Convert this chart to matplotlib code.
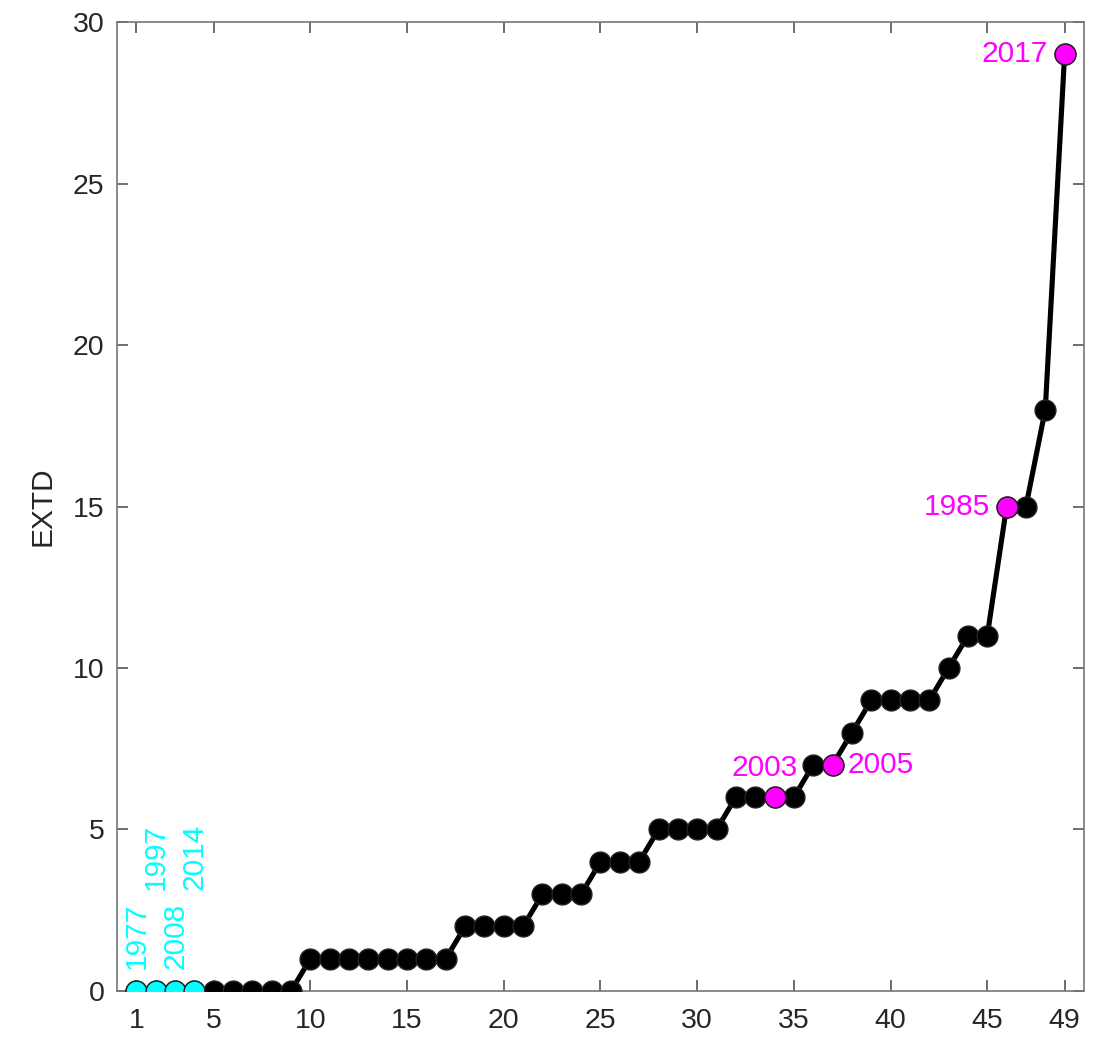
import matplotlib
matplotlib.use("Agg")
import matplotlib.pyplot as plt
import numpy as np

plt.rcParams['font.family'] = ['Liberation Sans', 'DejaVu Sans']

rank = list(range(1, 50))
extd = [0, 0, 0, 0, 0, 0, 0, 0, 0,
        1, 1, 1, 1, 1, 1, 1, 1,
        2, 2, 2, 2,
        3, 3, 3,
        4, 4, 4,
        5, 5, 5, 5,
        6, 6, 6, 6,
        7, 7,
        8,
        9, 9, 9, 9,
        10, 11, 11,
        15, 15, 18, 29]

cyan_idx = [1, 2, 3, 4]
cyan_years = ['1977', '1997', '2008', '2014']
mag_idx = [34, 37, 46, 49]
mag_years = ['2003', '2005', '1985', '2017']

xticks = [1, 5, 10, 15, 20, 25, 30, 35, 40, 45, 49]
yticks = [0, 5, 10, 15, 20, 25, 30]

fig = plt.figure(figsize=(10.96, 10.49), dpi=100)
ax = fig.add_axes([0.1068, 0.0553, 0.8822, 0.9237])

ax.plot(rank, extd, '-', color='black', lw=3.7, zorder=2)
ax.plot(rank, extd, 'o', color='black', ms=15, mec='#222222', mew=1, zorder=3)

cx = [rank[i - 1] for i in cyan_idx]
cy = [extd[i - 1] for i in cyan_idx]
ax.plot(cx, cy, 'o', color='cyan', ms=15, mec='#222222', mew=1, zorder=4)
mx = [rank[i - 1] for i in mag_idx]
my = [extd[i - 1] for i in mag_idx]
ax.plot(mx, my, 'o', color='magenta', ms=15, mec='#222222', mew=1, zorder=4)

# cyan labels (rotated, staggered)
cyan_off = [16, 73, 16, 73]
for x, y, t, o in zip(cx, cy, cyan_years, cyan_off):
    ax.annotate(t, (x, y), xytext=(0, o), textcoords='offset points',
                rotation=90, ha='center', va='bottom', color='cyan', fontsize=21.5)

# magenta labels
mag_pos = {'2003': ((-7, 11), 'center', 'bottom'),
           '2005': (( 11, 0), 'left', 'center'),
           '1985': ((-12, 0), 'right', 'center'),
           '2017': ((-12, 0), 'right', 'center')}
for x, y, t in zip(mx, my, mag_years):
    off, ha, va = mag_pos[t]
    ax.annotate(t, (x, y), xytext=off, textcoords='offset points',
                ha=ha, va=va, color='magenta', fontsize=21.5)

ax.set_xlim(0, 50)
ax.set_ylim(0, 30)
ax.set_xticks(xticks)
ax.set_yticks(yticks)
ax.tick_params(direction='in', top=True, right=True, length=8, width=1.2,
               color='#555555', labelcolor='#262626', labelsize=20.5)
ax.tick_params(axis='x', pad=12)
ax.tick_params(axis='y', pad=9)
for s in ax.spines.values():
    s.set_color('#777777')
    s.set_linewidth(1.2)
ax.set_ylabel('EXTD', fontsize=21.5, color='#262626', labelpad=12)

fig.savefig('out.png', dpi=100)
